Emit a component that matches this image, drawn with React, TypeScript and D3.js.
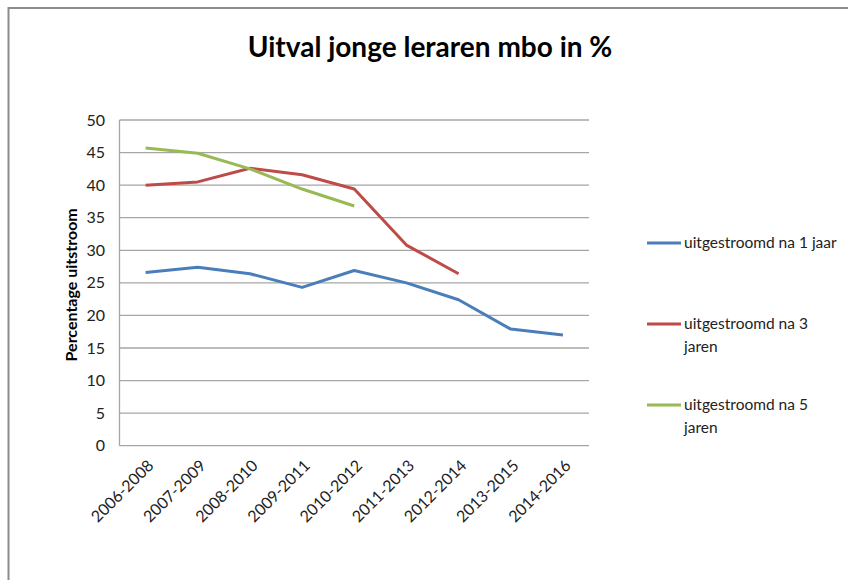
import React from "react";
import * as d3 from "d3";

const periods = [
  "2006-2008",
  "2007-2009",
  "2008-2010",
  "2009-2011",
  "2010-2012",
  "2011-2013",
  "2012-2014",
  "2013-2015",
  "2014-2016",
];

const na1Jaar = [26.6, 27.4, 26.4, 24.3, 26.9, 25.0, 22.4, 17.9, 17.0];
const na3Jaren = [40.0, 40.5, 42.6, 41.6, 39.4, 30.8, 26.4, null, null];
const na5Jaren = [45.7, 44.9, 42.5, 39.4, 36.8, null, null, null, null];

const yTicks = [0, 5, 10, 15, 20, 25, 30, 35, 40, 45, 50];

const seriesNames = [
  ["uitgestroomd na 1 jaar"],
  ["uitgestroomd na 3", "jaren"],
  ["uitgestroomd na 5", "jaren"],
];

const colors = ["#4a7ebb", "#be4b48", "#98b954"];

const W = 848;
const H = 580;
const margin = { left: 119.5, right: 589, top: 120, bottom: 445.7 };
const font = "Lato, 'Open Sans', sans-serif";

export default function App() {
  const x = d3
    .scaleBand<string>()
    .domain(periods)
    .range([margin.left, margin.right]);
  const y = d3.scaleLinear().domain([0, 50]).range([margin.bottom, margin.top]);

  const line = d3
    .line<number | null>()
    .defined((d) => d !== null)
    .x((_, i) => x(periods[i])! + x.bandwidth() / 2)
    .y((d) => y(d as number));

  const allSeries = [na1Jaar, na3Jaren, na5Jaren];
  const legendY = [243, 324, 405];

  return (
    <svg
      width={W}
      height={H}
      style={{ position: "absolute", left: 0, top: 0, background: "#fff" }}
      fontFamily={font}
    >
      {/* outer frame */}
      <path
        d={`M8.5,${H} V8 H${W}`}
        fill="none"
        stroke="#8c8c8c"
        strokeWidth={2}
      />

      <text
        x={430}
        y={57}
        textAnchor="middle"
        fontSize={28}
        fontWeight="bold"
        fill="#000"
      >
        Uitval jonge leraren mbo in %
      </text>

      {/* gridlines */}
      {yTicks.map((t) => (
        <g key={t}>
          <line
            x1={margin.left}
            x2={margin.right}
            y1={y(t)}
            y2={y(t)}
            stroke="#a6a6a6"
            strokeWidth={1.3}
          />
          <text
            x={105}
            y={y(t)}
            dy="0.35em"
            textAnchor="end"
            fontSize={16}
            fill="#222"
          >
            {t}
          </text>
        </g>
      ))}
      <line
        x1={margin.left}
        x2={margin.left}
        y1={margin.top}
        y2={margin.bottom}
        stroke="#a6a6a6"
        strokeWidth={1.3}
      />

      <text
        transform={`translate(77,${(margin.top + margin.bottom) / 2 + 2}) rotate(-90)`}
        textAnchor="middle"
        fontSize={16}
        fontWeight="bold"
        fill="#000"
      >
        Percentage uitstroom
      </text>

      {/* x labels */}
      {periods.map((p) => {
        const cx = x(p)! + x.bandwidth() / 2;
        return (
          <text
            key={p}
            transform={`translate(${cx + 5},${margin.bottom + 17}) rotate(-45)`}
            textAnchor="end"
            dy="0.35em"
            fontSize={16}
            fill="#222"
          >
            {p}
          </text>
        );
      })}

      {/* lines */}
      {allSeries.map((s, i) => (
        <path
          key={i}
          d={line(s) || ""}
          fill="none"
          stroke={colors[i]}
          strokeWidth={3}
          strokeLinejoin="round"
        />
      ))}

      {/* legend */}
      {seriesNames.map((lines, i) => (
        <g key={i}>
          <line
            x1={647}
            x2={681}
            y1={legendY[i]}
            y2={legendY[i]}
            stroke={colors[i]}
            strokeWidth={3}
          />
          {lines.map((l, j) => (
            <text
              key={j}
              x={684}
              y={legendY[i] + j * 23}
              dy="0.35em"
              fontSize={15.5}
              fill="#222"
            >
              {l}
            </text>
          ))}
        </g>
      ))}
    </svg>
  );
}
